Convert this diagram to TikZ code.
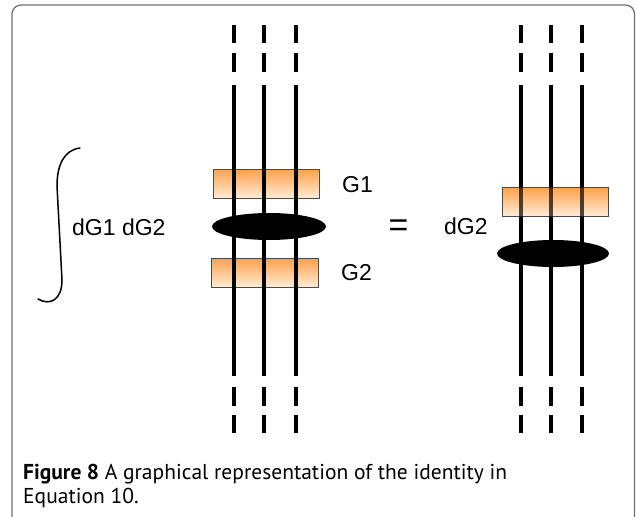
\documentclass[tikz,border=0pt]{standalone}
\usepackage{fontspec}
\setsansfont{PT Sans}
\newfontfamily\helvfont{Liberation Sans}
\usepackage{tikz}
\usetikzlibrary{shapes.geometric}
\definecolor{boxTop}{RGB}{255,160,72}
\definecolor{boxBottom}{RGB}{255,236,216}
\definecolor{boxEdge}{HTML}{4A4A4A}
\definecolor{frameGray}{HTML}{6E6E6E}
\tikzset{
  strand/.style={
    line width=4pt,
    draw=black
  },
  gaugeBox/.style={
    rectangle,
    draw=boxEdge,
    line width=0.8pt,
    top color=boxTop,
    bottom color=boxBottom,
    minimum width=106pt,
    minimum height=29pt,
    inner sep=0pt
  },
  blob/.style={
    ellipse,
    fill=black,
    minimum width=114pt,
    minimum height=27pt,
    inner sep=0pt
  },
  eqLabel/.style={
    font=\helvfont\fontsize{23}{27}\selectfont,
    anchor=base west,
    inner sep=0pt
  }
}

\begin{document}
\begin{tikzpicture}[x=1pt, y=-1pt]
  \clip (0,0) rectangle (636,516);
  \draw[frameGray, line width=1.2pt, rounded corners=9pt]
    (12,540) -- (12,5) -- (634.5,5) -- (634.5,540);

  % integral sign and its measure
  \draw[line width=1.5pt, line cap=round]
    (80,148) .. controls (64,150) and (57,165) .. (57,186)
    -- (62,280) .. controls (62,300) and (50,306) .. (38,299);
  \node[eqLabel] (measure) at (72,235) {dG1 dG2};

  % left side
  \node[gaugeBox] (gOne) at (266,183.5) {};
  \node[gaugeBox, minimum width=107pt] (gTwo) at (264.5,272.5) {};
  \foreach \x in {234,264,296} {
    \draw[strand] (\x,25) -- (\x,43) (\x,53) -- (\x,72)
      (\x,85) -- (\x,376) (\x,387) -- (\x,406) (\x,415) -- (\x,433);
  }
  \node[blob] (blobL) at (269,226.5) {};
  \node[eqLabel] (labOne) at (342,192) {G1};
  \node[eqLabel] (labTwo) at (341,280) {G2};

  \node[eqLabel, font=\helvfont\fontsize{34}{34}\selectfont, anchor=center] (equals) at (398.5,228) {=};
  \node[eqLabel] (measureR) at (444,234) {dG2};

  % right side
  \foreach \x in {521,551,582} {
    \draw[strand] (\x,25) -- (\x,43) (\x,53) -- (\x,72)
      (\x,85) -- (\x,376) (\x,387) -- (\x,406) (\x,415) -- (\x,433);
  }
  \node[gaugeBox] (gRight) at (555,201.5) {};
  \begin{scope}
    \clip (gRight.south west) rectangle (gRight.north east);
    \foreach \x in {521,551,582}
      \draw[strand, draw opacity=0.7] (\x,180) -- (\x,225);
  \end{scope}
  \node[blob, minimum width=112pt] (blobR) at (553,253.5) {};

  \node[font=\sffamily\fontsize{21.5}{24}\selectfont, align=left, anchor=base west, inner sep=0pt] (caption) at (23,503)
    {\textbf{Figure 8} A graphical representation of the identity in\\Equation 10.};
\end{tikzpicture}
\end{document}
